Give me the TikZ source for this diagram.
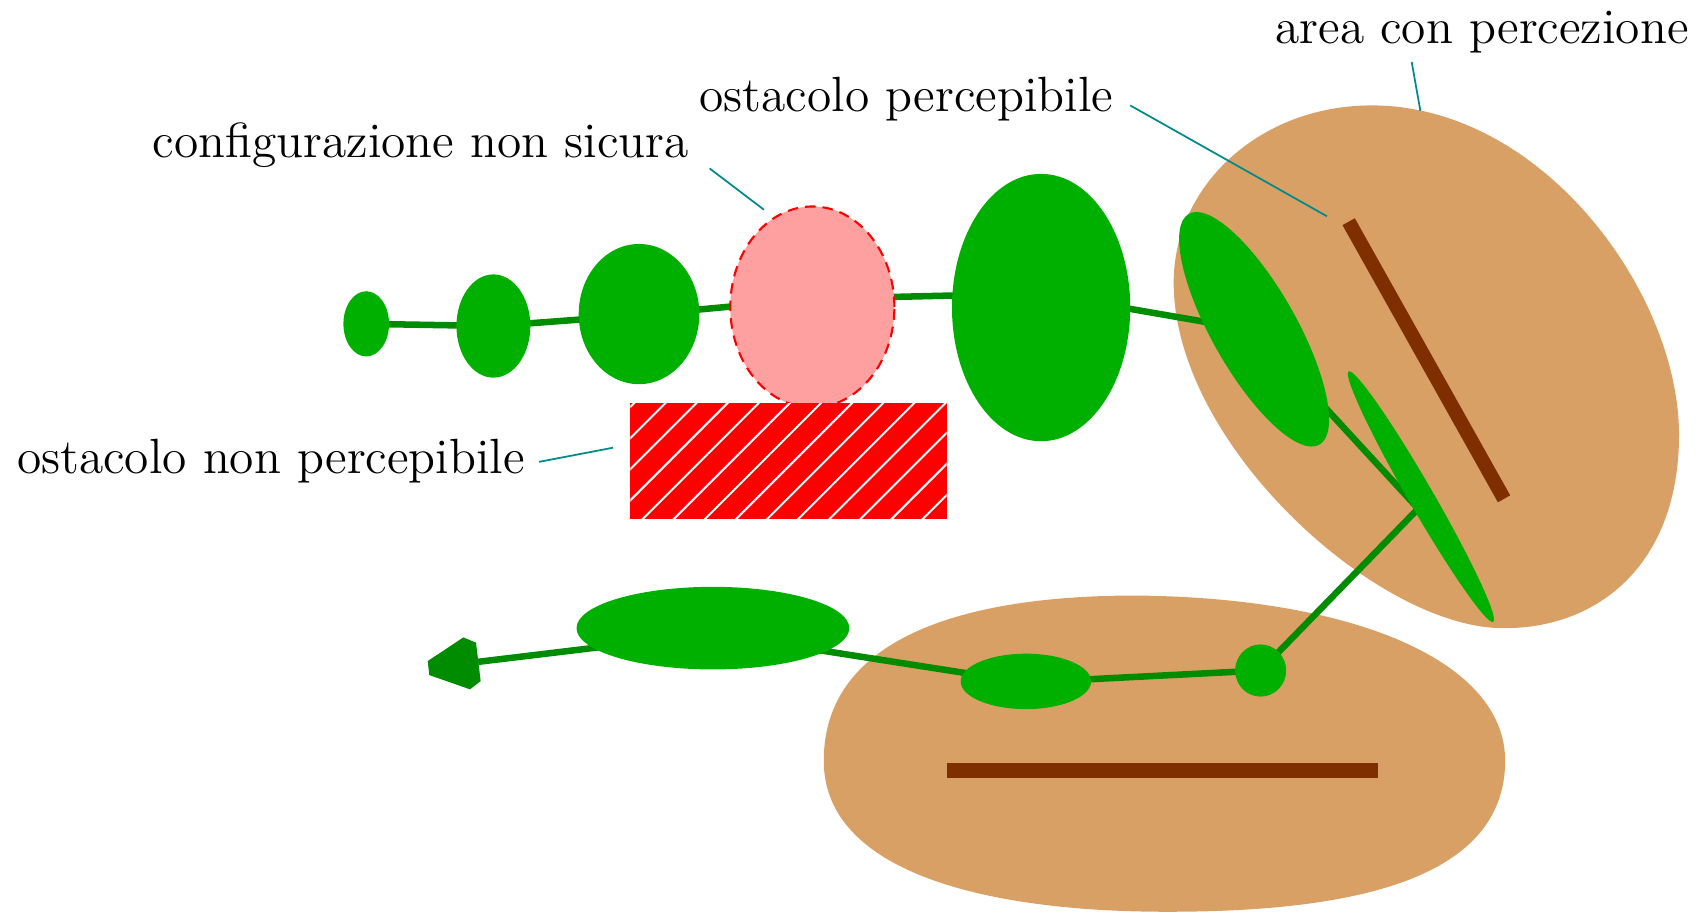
\documentclass[tikz,border=0pt]{standalone}
\usepackage{tikz}
\usetikzlibrary{shapes.geometric,patterns.meta}
\definecolor{confgreen}{HTML}{00B000}
\definecolor{pathgreen}{HTML}{008C00}
\definecolor{sandy}{HTML}{D9A066}
\definecolor{wallbrown}{HTML}{7F2E00}
\definecolor{unsafepink}{HTML}{FFA0A0}
\definecolor{leadercol}{HTML}{008B8B}
\def\px{0.10867mm}

\begin{document}
\begin{tikzpicture}[x=\px,y=-\px,
  conf/.style={ellipse,fill=confgreen,inner sep=0pt,outer sep=0pt},
  wall/.style={wallbrown,line width=13*\px},
  leader/.style={leadercol,line width=0.5pt},
  lbl/.style={font=\fontsize{14.08pt}{17pt}\selectfont,inner sep=0pt,anchor=base west}]
  \useasboundingbox (0,0) rectangle (1568,840);
  % perception areas
  \fill[sandy] (1262,97) .. controls (1420,97) and (1545,270) .. (1545,400)
    .. controls (1545,520) and (1470,578) .. (1385,578)
    .. controls (1270,580) and (1080,410) .. (1080,260)
    .. controls (1080,170) and (1160,97) .. cycle;
  \fill[sandy] (1045,548) .. controls (1250,550) and (1385,610) .. (1385,700)
    .. controls (1385,815) and (1230,839) .. (1074,839)
    .. controls (900,839) and (758,800) .. (758,700)
    .. controls (758,590) and (880,548) .. cycle;
  % perceived walls
  \coordinate (w1a) at (1241,204);
  \coordinate (w1b) at (1384,459);
  \coordinate (w2a) at (871,709);
  \coordinate (w2b) at (1268,709);
  \draw[wall] (w1a) -- (w1b);
  \draw[wall] (w2a) -- (w2b);
  % path of the robot
  \coordinate (p1) at (337,298);
  \coordinate (p2) at (454,300);
  \coordinate (p3) at (588,290);
  \coordinate (p4) at (748,275);
  \coordinate (p5) at (958,270);
  \coordinate (p6) at (1154,304);
  \coordinate (p7) at (1305,468);
  \coordinate (p8) at (1160,617);
  \coordinate (p9) at (944,628);
  \coordinate (p10) at (656,583);
  \coordinate (head) at (440,609);
  \draw[pathgreen,line width=6*\px] (p1) -- (p2) -- (p3) -- (p4) -- (p5) -- (p6) -- (p7)
    -- (p8) -- (p9) -- (p10) -- (head);
  \fill[pathgreen] (393.6,608.3) -- (426.4,586.5) -- (438,591.4) -- (442.3,626.7)
    -- (432.5,634.3) -- (395,621.2) -- cycle;
  % configurations
  \node[conf,minimum width=42*\px,minimum height=60*\px] (c1) at (337,298) {};
  \node[conf,minimum width=68*\px,minimum height=95*\px] (c2) at (454,300) {};
  \node[conf,minimum width=111*\px,minimum height=129*\px] (c3) at (588,289) {};
  \node[ellipse,inner sep=0pt,fill=unsafepink,draw=red,line width=0.6pt,dash pattern=on 3pt off 2pt,
    minimum width=151*\px,minimum height=185*\px] (c4) at (747.5,282.5) {};
  \node[conf,minimum width=164*\px,minimum height=246*\px] (c5) at (958,283) {};
  \node[conf,rotate=-60.5,minimum width=244*\px,minimum height=78*\px] (c6) at (1154,303) {};
  \node[conf,rotate=-60,minimum width=266*\px,minimum height=23*\px] (c7) at (1307.5,457) {};
  \node[conf,minimum width=47*\px,minimum height=48*\px] (c8) at (1160,617) {};
  \node[conf,minimum width=120*\px,minimum height=51*\px] (c9) at (944,627) {};
  \node[conf,minimum width=251*\px,minimum height=76*\px] (c10) at (656,578) {};
  % hidden obstacle
  \node[rectangle,inner sep=0pt,preaction={fill=red},
    pattern={Lines[angle=45,distance=2.2mm,line width=0.2mm]},pattern color=white,
    minimum width=291*\px,minimum height=107*\px] (hidden) at (725.5,424.5) {};
  % labels
  \node[lbl] (areaLbl) at (1173,40) {area con percezione};
  \node[lbl] (seenLbl) at (643,103) {ostacolo percepibile};
  \node[lbl] (unsafeLbl) at (140,145) {configurazione non sicura};
  \node[lbl] (hiddenLbl) at (15,436) {ostacolo non percepibile};
  \coordinate (l1a) at (1299,57);
  \coordinate (l1b) at (1307,102);
  \coordinate (l2a) at (1040,97);
  \coordinate (l2b) at (1221,199);
  \coordinate (l3a) at (653,155);
  \coordinate (l3b) at (703,193);
  \coordinate (l4a) at (496,425);
  \coordinate (l4b) at (564,412);
  \draw[leader] (l1a) -- (l1b);
  \draw[leader] (l2a) -- (l2b);
  \draw[leader] (l3a) -- (l3b);
  \draw[leader] (l4a) -- (l4b);
\end{tikzpicture}
\end{document}
